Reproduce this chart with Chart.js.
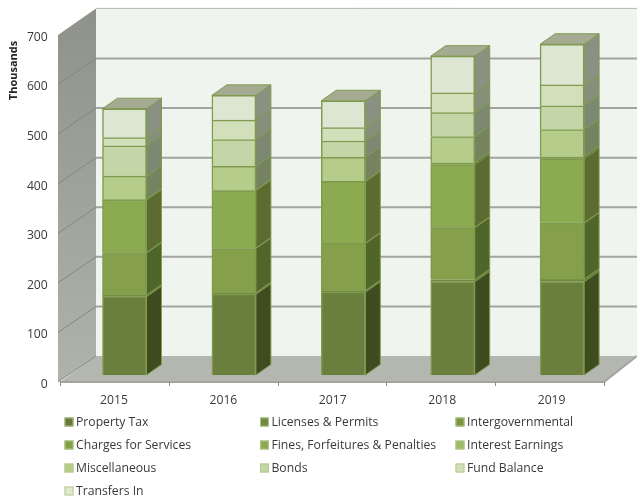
<!DOCTYPE html>
<html><head><meta charset="utf-8">
<style>html,body{margin:0;padding:0;background:#fff}canvas{display:block}</style>
<script src="https://cdn.jsdelivr.net/npm/chart.js@4"></script>
</head><body><canvas id="c" width="637" height="499"></canvas>
<script>
const years = ['2015','2016','2017','2018','2019'];
const propertyTax = [158,163,167,188,188];
const licenses = [3,3,3,4,5];
const intergovernmental = [85,89,95,105,113];
const charges = [1,1,1,1,1];
const fines = [106,116,124,126,129];
const interest = [1,1,1,4,4];
const miscellaneous = [47,48,48,53,55];
const bonds = [61,54,33,48,48];
const fundBalance = [17,39,27,40,42];
const transfersIn = [58,50,54,74,82];
const yTicks = [0,100,200,300,400,500,600,700];
const axisTitle = 'Thousands';
const seriesNames = ['Property Tax','Licenses & Permits','Intergovernmental','Charges for Services','Fines, Forfeitures & Penalties','Interest Earnings','Miscellaneous','Bonds','Fund Balance','Transfers In'];
const seriesValues = [propertyTax,licenses,intergovernmental,charges,fines,interest,miscellaneous,bonds,fundBalance,transfersIn];
const frontColors = ['#6a7f3e','#6f8a40','#859f4b','#7f9c47','#8caa50','#7f9c47','#b6cc8b','#c4d6a8','#d2dfbb','#dde6d2'];
const sideColors = ['#3f4c20','#5c7a2e','#4f6529','#5b7030','#5c6b2f','#5c6e30','#768361','#7c8872','#868f7a','#8a9183'];
const legendColors = ['#66793a','#6f8a40','#7b9642','#82a048','#8cab50','#9dbb66','#b6cc8b','#c4d6a8','#d2dfbb','#dde8d2'];

const FONT = '"Open Sans", sans-serif';
const TEXT = '#3a3a3a';
const DX = 15, DY = 10.5;

const scene = {
  id: 'scene',
  beforeDatasetsDraw(chart) {
    const {ctx, scales:{x, y}} = chart;
    const base = y.getPixelForValue(0);
    const top = y.getPixelForValue(700);
    const fy = base + 7, fyTop = top + 7;
    const by = base - 19, byTop = top - 19.5;
    const step = x.getPixelForValue(1) - x.getPixelForValue(0);
    const xL = x.getPixelForValue(0) - step/2 - 9.8;
    const xFrontR = xL + 544;
    const wallFront = 58, wallBack = 96, right = 637;
    ctx.save();
    ctx.fillStyle = '#eff4ee';
    ctx.fillRect(wallBack, byTop, right - wallBack, by - byTop);
    ctx.strokeStyle = '#b4b7b0'; ctx.lineWidth = 1;
    ctx.beginPath(); ctx.moveTo(wallBack, byTop); ctx.lineTo(right, byTop); ctx.stroke();
    ctx.fillStyle = '#b3b7b0';
    ctx.beginPath(); ctx.moveTo(wallFront+2, fy); ctx.lineTo(wallBack, by); ctx.lineTo(right, by); ctx.lineTo(xFrontR, fy); ctx.closePath(); ctx.fill();
    const g = ctx.createLinearGradient(0, byTop, 0, fy);
    g.addColorStop(0, '#8f928a'); g.addColorStop(1, '#b0b3ac');
    ctx.fillStyle = g;
    ctx.beginPath(); ctx.moveTo(wallFront, fyTop); ctx.lineTo(wallBack, byTop); ctx.lineTo(wallBack, by); ctx.lineTo(wallFront, fy); ctx.closePath(); ctx.fill();
    for (const t of y.ticks) {
      if (t.value === 700) continue;
      const p = y.getPixelForValue(t.value);
      ctx.strokeStyle = '#84867f'; ctx.lineWidth = 1;
      ctx.beginPath(); ctx.moveTo(wallFront, p+7); ctx.lineTo(wallBack, p-19); ctx.stroke();
      if (t.value === 0) continue;
      ctx.strokeStyle = '#a3a4a0'; ctx.lineWidth = 2;
      ctx.beginPath(); ctx.moveTo(wallBack, p-19); ctx.lineTo(right, p-19); ctx.stroke();
    }
    ctx.strokeStyle = '#a2a49d'; ctx.lineWidth = 2;
    ctx.beginPath(); ctx.moveTo(wallFront+2, fy); ctx.lineTo(xFrontR, fy); ctx.lineTo(right, by); ctx.stroke();
    ctx.strokeStyle = '#8f908c'; ctx.lineWidth = 1;
    for (let i = 0; i <= years.length; i++) {
      const px = Math.round(xL + i*544/years.length) + .5;
      ctx.beginPath(); ctx.moveTo(px, fy); ctx.lineTo(px, fy+4); ctx.stroke();
    }
    chart.data.datasets.forEach((ds, di) => {
      chart.getDatasetMeta(di).data.forEach(bar => {
        const r = bar.x + bar.width/2, l = bar.x - bar.width/2;
        ctx.fillStyle = sideColors[di];
        ctx.strokeStyle = '#7f9b4e'; ctx.lineWidth = di === 1 || di === 5 || di === 3 ? .5 : 1;
        ctx.beginPath();
        ctx.moveTo(r, bar.y); ctx.lineTo(r+DX, bar.y-DY); ctx.lineTo(r+DX, bar.base-DY); ctx.lineTo(r, bar.base); ctx.closePath();
        ctx.fill(); ctx.stroke();
        if (di === chart.data.datasets.length - 1) {
          ctx.fillStyle = '#a5ab92';
          ctx.beginPath();
          ctx.moveTo(l, bar.y); ctx.lineTo(l+DX, bar.y-DY); ctx.lineTo(r+DX, bar.y-DY); ctx.lineTo(r, bar.y); ctx.closePath();
          ctx.fill(); ctx.stroke();
        }
      });
    });
    ctx.restore();
  },
  afterDraw(chart) {
    const {ctx} = chart;
    ctx.save();
    ctx.translate(14, 70.5); ctx.rotate(-Math.PI/2);
    ctx.font = 'bold 11px ' + FONT; ctx.fillStyle = '#222'; ctx.textAlign = 'center'; ctx.textBaseline = 'middle';
    ctx.fillText(axisTitle, 0, 0);
    ctx.restore();
    ctx.save();
    ctx.font = '12.2px ' + FONT; ctx.textBaseline = 'middle'; ctx.textAlign = 'left';
    const cols = [64.5, 260, 455.5], rows = [422, 445, 468, 491];
    seriesNames.forEach((name, i) => {
      const cx = cols[i % 3], cy = rows[Math.floor(i/3)];
      ctx.fillStyle = legendColors[i];
      ctx.fillRect(cx, cy-4.5, 9, 9);
      ctx.strokeStyle = 'rgba(180,200,140,.9)'; ctx.lineWidth = 1;
      ctx.strokeRect(cx+.5, cy-4, 8, 8);
      ctx.fillStyle = TEXT;
      ctx.fillText(name, cx + 11.5, cy + 1);
    });
    ctx.restore();
  }
};

new Chart(document.getElementById('c'), {
  type: 'bar',
  data: {
    labels: years,
    datasets: seriesNames.map((name, i) => ({
      label: name,
      data: seriesValues[i],
      backgroundColor: frontColors[i],
      borderColor: '#7f9b4e',
      borderWidth: i === 1 || i === 3 || i === 5 ? .5 : 1.5,
      barThickness: 44
    }))
  },
  plugins: [scene],
  options: {
    responsive: false,
    animation: false,
    layout: {padding: {top: 27.9, right: 20.2, left: 0, bottom: 0}},
    plugins: {legend: {display: false}, tooltip: {enabled: false}},
    scales: {
      x: {
        stacked: true,
        grid: {display: false},
        border: {display: false},
        afterFit(s) { s.height = 124; },
        ticks: {font: {family: FONT, size: 12.2}, color: TEXT, labelOffset: -10.5, padding: 10, maxRotation: 0}
      },
      y: {
        stacked: true,
        min: 0, max: 700,
        grid: {display: false},
        border: {display: false},
        afterFit(s) { s.width = 69.8; },
        afterBuildTicks(s) { s.ticks = yTicks.map(v => ({value: v})); },
        ticks: {font: {family: FONT, size: 12.2}, color: TEXT, labelOffset: 9.5, padding: 14}
      }
    }
  }
});
</script></body></html>
